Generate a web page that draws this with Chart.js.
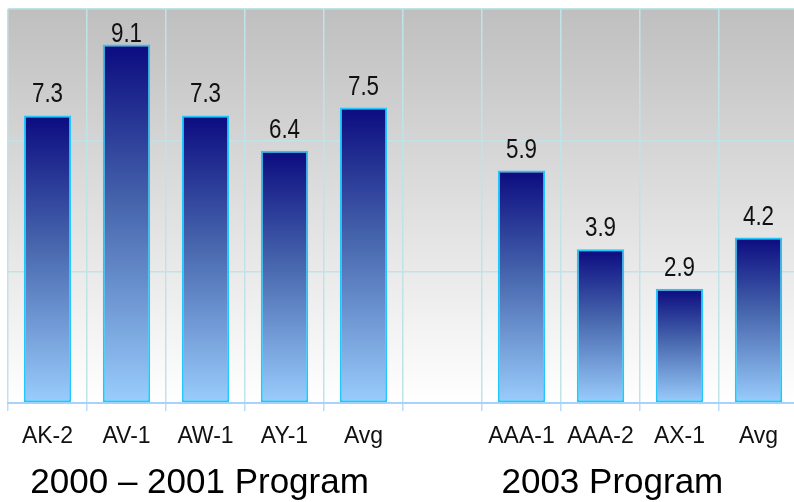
<!DOCTYPE html>
<html>
<head>
<meta charset="utf-8">
<script src="https://cdn.jsdelivr.net/npm/chart.js@4/dist/chart.umd.min.js"></script>
<style>
  html, body { margin: 0; padding: 0; background: #ffffff; overflow: hidden; }
  #wrap { width: 806px; height: 502px; }
</style>
</head>
<body>
<div id="wrap"><canvas id="chart" width="806" height="502"></canvas></div>
<script>
// values
const categories = ['AK-2', 'AV-1', 'AW-1', 'AY-1', 'Avg', '', 'AAA-1', 'AAA-2', 'AX-1', 'Avg'];
const scores = [7.3, 9.1, 7.3, 6.4, 7.5, null, 5.9, 3.9, 2.9, 4.2];
const groupNames = ['2000 \u2013 2001 Program', '2003 Program'];
const groupSpans = [[0, 3.85], [6, 8.3]];
const yTicks = [0, 10 / 3, 20 / 3, 10];

const FONT = "'Liberation Sans', Arial, sans-serif";

function barFill(ctx) {
    const chart = ctx.chart;
    const v = ctx.raw;
    if (!chart.chartArea || v == null) return '#4a68ad';
    const y = chart.scales.y;
    const top = y.getPixelForValue(v);
    const bottom = y.getPixelForValue(0);
    const g = chart.ctx.createLinearGradient(0, top, 0, bottom);
    g.addColorStop(0, '#0b0b80');
    g.addColorStop(0.45, '#4766ad');
    g.addColorStop(1, '#9acdfd');
    return g;
}

// grey-to-white plot background
const plotBackground = {
    id: 'plotBackground',
    beforeDraw(chart) {
        const { ctx, chartArea: a } = chart;
        const g = ctx.createLinearGradient(0, a.top, 0, a.bottom);
        g.addColorStop(0, '#bfbfbf');
        g.addColorStop(1, '#ffffff');
        ctx.save();
        ctx.fillStyle = g;
        ctx.fillRect(a.left, a.top, a.right - a.left, a.bottom - a.top);
        ctx.restore();
    }
};

// numbers above bars (narrow look via horizontal squeeze)
const valueLabels = {
    id: 'valueLabels',
    afterDatasetsDraw(chart) {
        const ctx = chart.ctx;
        const meta = chart.getDatasetMeta(0);
        const squeeze = 0.8;
        ctx.save();
        ctx.font = '28px ' + FONT;
        ctx.fillStyle = '#111111';
        ctx.textAlign = 'center';
        ctx.textBaseline = 'alphabetic';
        ctx.scale(squeeze, 1);
        meta.data.forEach((bar, i) => {
            if (scores[i] == null) return;
            const base = Math.max(bar.y - 13, chart.chartArea.top + 33);
            ctx.fillText(scores[i].toFixed(1), bar.x / squeeze, base);
        });
        ctx.restore();
    }
};

// big group captions under the category labels
const groupTitles = {
    id: 'groupTitles',
    afterDraw(chart) {
        const ctx = chart.ctx;
        const x = chart.scales.x;
        ctx.save();
        ctx.font = '35px ' + FONT;
        ctx.fillStyle = '#000000';
        ctx.textAlign = 'center';
        ctx.textBaseline = 'alphabetic';
        groupNames.forEach((name, i) => {
            const [a, b] = groupSpans[i];
            const cx = (x.getPixelForValue(a) + x.getPixelForValue(b)) / 2;
            ctx.fillText(name, cx, 493);
        });
        ctx.restore();
    }
};

new Chart(document.getElementById('chart'), {
    type: 'bar',
    data: {
        labels: categories,
        datasets: [{
            data: scores,
            backgroundColor: barFill,
            borderColor: '#22c8fb',
            borderWidth: 2,
            borderSkipped: false,
            barPercentage: 0.6,
            categoryPercentage: 1
        }]
    },
    options: {
        responsive: false,
        animation: false,
        layout: { padding: { left: 8, right: 8, top: 9, bottom: 0 } },
        plugins: { legend: { display: false }, tooltip: { enabled: false } },
        scales: {
            x: {
                grid: {
                    offset: true,
                    color: '#bfe3e6',
                    lineWidth: 1.5,
                    tickLength: 8,
                    tickColor: '#b9dcf8'
                },
                border: { color: '#a6d3fb', width: 2 },
                ticks: {
                    font: { family: FONT, size: 23 },
                    color: '#111111',
                    padding: 12,
                    maxRotation: 0,
                    autoSkip: false
                },
                afterFit(scale) { scale.height = 99; }
            },
            y: {
                min: 0,
                max: 10,
                afterBuildTicks(scale) { scale.ticks = yTicks.map(v => ({ value: v })); },
                grid: { color: '#bfe3e6', lineWidth: 1.5, drawTicks: false },
                border: { display: false },
                ticks: { display: false },
                afterFit(scale) { scale.width = 0; }
            }
        }
    },
    plugins: [plotBackground, valueLabels, groupTitles]
});
</script>
</body>
</html>
